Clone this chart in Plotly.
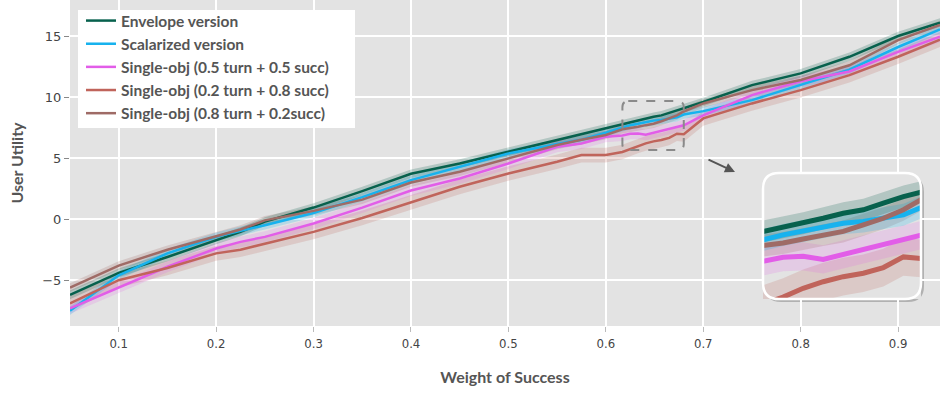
import plotly.graph_objects as go

# ---------------- data ----------------
weight = [0.05, 0.1, 0.15, 0.2, 0.225, 0.25, 0.3, 0.35, 0.4, 0.45, 0.5, 0.55, 0.575, 0.6,
          0.617, 0.625, 0.633, 0.641, 0.649, 0.657, 0.665, 0.673, 0.68,
          0.7, 0.75, 0.8, 0.85, 0.9, 0.943]

envelope = [-6.2, -4.4, -3.1, -1.7, -1.04, -0.2, 0.95, 2.3, 3.72, 4.56, 5.52, 6.47, 6.95, 7.43,
            7.81, 7.94, 8.07, 8.23, 8.39, 8.50, 8.71, 8.92, 9.06,
            9.6, 10.98, 11.94, 13.3, 15.0, 16.1]
scalarized = [-7.5, -4.6, -2.8, -1.45, -0.96, -0.5, 0.5, 1.8, 3.2, 4.29, 5.38, 6.15, 6.5, 7.08,
              7.54, 7.70, 7.81, 7.94, 8.07, 8.13, 8.23, 8.34, 8.57,
              8.85, 9.75, 10.98, 12.25, 14.1, 15.55]
single_05 = [-7.3, -5.6, -3.9, -2.4, -1.86, -1.45, -0.35, 0.95, 2.35, 3.33, 4.56, 5.93, 6.2, 6.75,
             6.86, 6.99, 7.02, 6.92, 7.08, 7.24, 7.40, 7.55, 7.69,
             8.5, 10.16, 11.3, 12.1, 13.7, 14.94]
single_02 = [-6.9, -5.0, -4.0, -2.8, -2.5, -2.0, -1.04, 0.1, 1.35, 2.65, 3.74, 4.7, 5.25, 5.25,
             5.5, 5.72, 6.0, 6.21, 6.37, 6.48, 6.66, 7.0, 6.95,
             8.25, 9.48, 10.57, 11.8, 13.3, 14.7]
single_08 = [-5.6, -3.8, -2.5, -1.4, -0.85, -0.1, 0.68, 1.6, 3.0, 3.88, 4.97, 6.07, 6.5, 6.89,
             7.36, 7.44, 7.57, 7.70, 7.81, 8.02, 8.23, 8.50, 8.82,
             9.48, 10.57, 11.4, 12.6, 14.67, 15.9]

# half-width of the shaded band around each curve
spread_envelope = 0.35
spread_scalarized = 0.35
spread_single_05 = 0.45
spread_single_02 = 0.6
spread_single_08 = 0.35

names = ["Envelope version", "Scalarized version", "Single-obj (0.5 turn + 0.5 succ)",
         "Single-obj (0.2 turn + 0.8 succ)", "Single-obj (0.8 turn + 0.2succ)"]

x_ticks = [0.1, 0.2, 0.3, 0.4, 0.5, 0.6, 0.7, 0.8, 0.9]
y_ticks = [-5, 0, 5, 10, 15]
y_tick_labels = ["\u22125", "0", "5", "10", "15"]

# zoom window shown in the inset
zoom_x = [0.617, 0.68]
zoom_y = [5.66, 9.67]

# ---------------- styling ----------------
series = [
    (envelope, spread_envelope, "#07614d", "rgba(7,97,77,0.22)"),
    (scalarized, spread_scalarized, "#17b2ee", "rgba(23,178,238,0.22)"),
    (single_05, spread_single_05, "#e25de8", "rgba(226,93,232,0.18)"),
    (single_02, spread_single_02, "#c0645b", "rgba(192,100,91,0.2)"),
    (single_08, spread_single_08, "#9f6b66", "rgba(159,107,102,0.22)"),
]
order = [3, 2, 4, 1, 0]

fig = go.Figure()

for xa, ya, lw, showleg in [("x", "y", 2.5, True), ("x2", "y2", 5, False)]:
    for i in order:
        vals, sp, col, band = series[i]
        up = [v + sp for v in vals]
        lo = [v - sp for v in vals]
        fig.add_trace(go.Scatter(x=weight + weight[::-1], y=up + lo[::-1], fill="toself",
                                 fillcolor=band, line=dict(width=0), hoverinfo="skip",
                                 showlegend=False, xaxis=xa, yaxis=ya))
    for i in range(5):
        vals, sp, col, band = series[i]
        fig.add_trace(go.Scatter(x=weight, y=vals, mode="lines", name=names[i],
                                 line=dict(color=col, width=lw), showlegend=showleg,
                                 legendrank=i + 1, xaxis=xa, yaxis=ya))

# layout geometry (pixels)
W, H = 940, 393
ML, MR, MT, MB = 70, 0, 0, 67
PW, PH = W - ML - MR, H - MT - MB


def px2paper(px, py):
    return (px - ML) / PW, 1 - (py - MT) / PH


def rounded_path(x0, y0, x1, y1, r):
    rx, ry = r / PW, r / PH
    a0, b1 = px2paper(x0, y0)
    a1, b0 = px2paper(x1, y1)
    return (f"M{a0 + rx},{b1} L{a1 - rx},{b1} Q{a1},{b1} {a1},{b1 - ry} "
            f"L{a1},{b0 + ry} Q{a1},{b0} {a1 - rx},{b0} L{a0 + rx},{b0} "
            f"Q{a0},{b0} {a0},{b0 + ry} L{a0},{b1 - ry} Q{a0},{b1} {a0 + rx},{b1} Z")


ix0, iy0, ix1, iy1 = 763, 173, 921, 299
d0, d1 = px2paper(ix0, iy1)
d2, d3 = px2paper(ix1, iy0)

lg0 = px2paper(78, 128)
lg1 = px2paper(355, 10)

shapes = [
    dict(type="path", xref="paper", yref="paper", path=rounded_path(ix0 + 2, iy0 + 3, ix1 + 3, iy1 + 3, 16),
         fillcolor="rgba(0,0,0,0.22)", line=dict(width=0), layer="between"),
    dict(type="path", xref="paper", yref="paper", path=rounded_path(ix0, iy0, ix1, iy1, 16),
         fillcolor="rgba(0,0,0,0)", line=dict(color="white", width=2.5), layer="above"),
    dict(type="path", xref="x", yref="y",
         path=(f"M{zoom_x[0] + 0.006},{zoom_y[1]} L{zoom_x[1] - 0.006},{zoom_y[1]} "
               f"Q{zoom_x[1]},{zoom_y[1]} {zoom_x[1]},{zoom_y[1] - 0.5} "
               f"L{zoom_x[1]},{zoom_y[0] + 0.5} Q{zoom_x[1]},{zoom_y[0]} {zoom_x[1] - 0.006},{zoom_y[0]} "
               f"L{zoom_x[0] + 0.006},{zoom_y[0]} Q{zoom_x[0]},{zoom_y[0]} {zoom_x[0]},{zoom_y[0] + 0.5} "
               f"L{zoom_x[0]},{zoom_y[1] - 0.5} Q{zoom_x[0]},{zoom_y[1]} {zoom_x[0] + 0.006},{zoom_y[1]} Z"),
         line=dict(color="#8a8a8a", width=2, dash="dash"), layer="above"),
    dict(type="rect", xref="paper", yref="paper", x0=lg0[0], y0=lg0[1], x1=lg1[0], y1=lg1[1],
         fillcolor="white", line=dict(width=0), layer="above"),
]

arrow_head = px2paper(735, 172)
arrow_tail = (707, 159)

legend_pos = px2paper(81, 4)

fig.update_layout(
    width=W, height=H,
    margin=dict(l=ML, r=MR, t=MT, b=MB),
    paper_bgcolor="white", plot_bgcolor="#e3e3e3",
    font=dict(family="Lato, DejaVu Sans, sans-serif", color="#555555"),
    showlegend=True,
    legend=dict(x=legend_pos[0], y=legend_pos[1], xanchor="left", yanchor="top",
                bgcolor="rgba(0,0,0,0)",
                font=dict(family="Lato", size=15.5, color="#555555", weight="bold"),
                tracegroupgap=0, traceorder="normal"),
    xaxis=dict(range=[0.05, 0.943], tickvals=x_ticks, ticktext=[str(v) for v in x_ticks],
               showgrid=True, gridcolor="white", gridwidth=1.5, zeroline=False,
               ticks="outside", ticklen=5, tickcolor="#bbbbbb",
               tickfont=dict(family="DejaVu Sans Condensed, DejaVu Sans", size=13, color="#444444"),
               title=dict(text="Weight of Success", standoff=22,
                          font=dict(family="Lato", size=16, color="#555555", weight="bold")),
               domain=[0, 1]),
    yaxis=dict(range=[-8.75, 17.95], tickvals=y_ticks, ticktext=y_tick_labels,
               showgrid=True, gridcolor="white", gridwidth=1.5, zeroline=False,
               ticks="outside", ticklen=5, tickcolor="#888888",
               tickfont=dict(family="DejaVu Sans", size=13, color="#444444"),
               title=dict(text="User Utility", standoff=14,
                          font=dict(family="Lato", size=16, color="#555555", weight="bold")),
               domain=[0, 1]),
    xaxis2=dict(domain=[d0, d2], range=zoom_x, showgrid=False, zeroline=False,
                showticklabels=False, ticks="", anchor="y2"),
    yaxis2=dict(domain=[d1, d3], range=zoom_y, showgrid=False, zeroline=False,
                showticklabels=False, ticks="", anchor="x2"),
    shapes=shapes,
    annotations=[dict(x=arrow_head[0], y=arrow_head[1], xref="paper", yref="paper",
                      ax=arrow_tail[0] - 735, ay=arrow_tail[1] - 172, axref="pixel", ayref="pixel",
                      text="", showarrow=True, arrowhead=2, arrowsize=1, arrowwidth=2,
                      arrowcolor="#555555")],
)

fig.write_html("out.html", config={"displayModeBar": False},
               post_script="document.body.style.margin='0';document.body.style.overflow='hidden';")
